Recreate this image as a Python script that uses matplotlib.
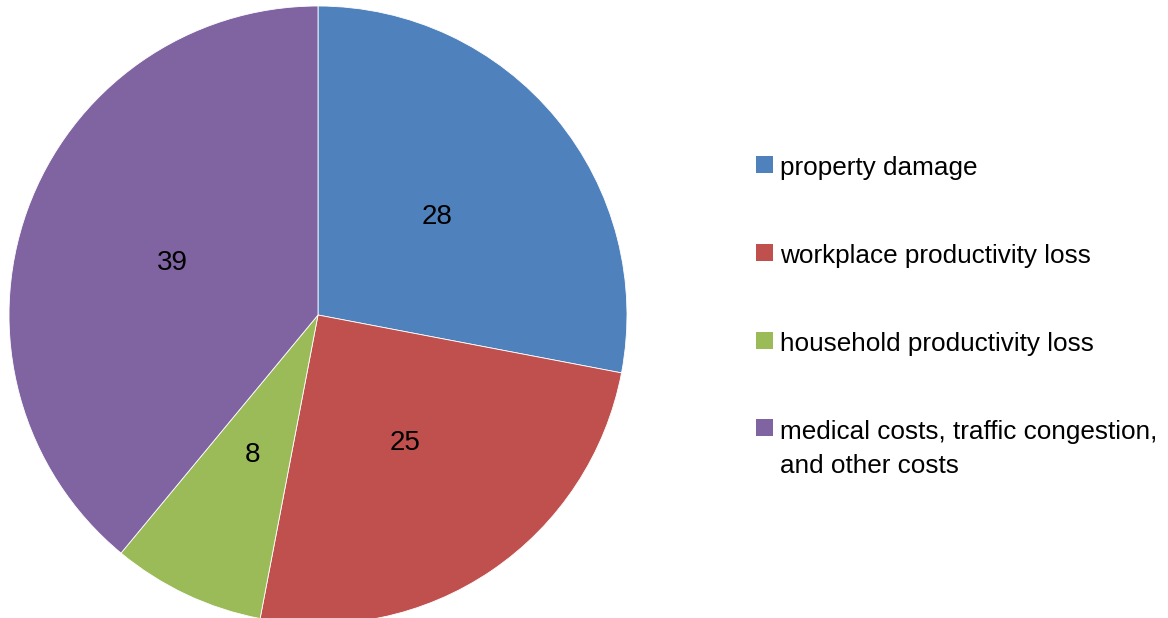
import matplotlib.pyplot as plt
from matplotlib.patches import Rectangle

plt.rcParams['font.family'] = ['Liberation Sans Narrow', 'Liberation Sans', 'DejaVu Sans']

# cost shares (percent)
categories = ["property damage", "workplace productivity loss", "household productivity loss",
              "medical costs, traffic congestion,\nand other costs"]
values = [28, 25, 8, 39]
colors = ["#4F81BD", "#C0504D", "#9BBB59", "#8064A2"]

W, H = 1168, 618
fig = plt.figure(figsize=(W / 100, H / 100), dpi=100)
# pie axes: centre at (318, 315) px, radius 309 px
ax = fig.add_axes([9 / W, -6 / H, 618 / W, 618 / H])

wedges, texts = ax.pie(values, colors=colors, startangle=90, counterclock=False,
                       labels=[str(v) for v in values], labeldistance=0.5,
                       wedgeprops=dict(linewidth=0.6, edgecolor="white"),
                       textprops=dict(fontsize=20, color="black", ha="center", va="center"))
ax.set_xlim(-1, 1)
ax.set_ylim(-1, 1)
ax.set_aspect("equal")
ax.axis("off")

# legend drawn by hand so the marker sits on the first line of a wrapped label
row_y = [175, 263, 351, 438]  # first-line baselines in px from top
line_step = 35
for c, lab, y in zip(colors, categories, row_y):
    fig.patches.append(Rectangle((756 / W, 1 - (y - 2) / H), 17 / W, 17 / H,
                                 facecolor=c, edgecolor="none", transform=fig.transFigure))
    # multiline text: matplotlib's baseline is the last line's
    y_last = y + line_step * lab.count("\n")
    fig.text(780 / W, 1 - y_last / H, lab, fontsize=18.8, va="baseline", ha="left",
             linespacing=1.5)

fig.savefig("out.png", dpi=100)
